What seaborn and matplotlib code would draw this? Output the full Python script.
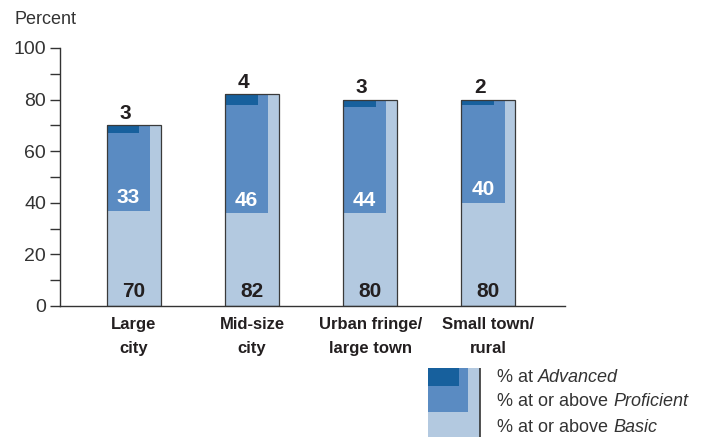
import pandas as pd
import matplotlib
matplotlib.use("Agg")
import matplotlib.pyplot as plt
import seaborn as sns

sns.set_style("white")
plt.rcParams['font.family'] = ['Liberation Sans', 'DejaVu Sans']

# data
categories = ["Large\ncity", "Mid-size\ncity", "Urban fringe/\nlarge town", "Small town/\nrural"]
basic = [70, 82, 80, 80]        # % at or above Basic
proficient = [33, 46, 44, 40]   # % at or above Proficient
advanced = [3, 4, 3, 2]         # % at Advanced

c_basic = "#b3c9e0"
c_prof = "#5a8bc2"
c_adv = "#17609d"
txt = "#231f20"

df = pd.DataFrame({"cat": categories, "basic": basic})

fig = plt.figure(figsize=(7.09, 4.37), dpi=100)
ax = fig.add_axes([60 / 709, 0.2998, 505 / 709, 0.5904])

bw = 0.46
sns.barplot(data=df, x="cat", y="basic", color=c_basic, width=bw,
            saturation=1, ax=ax, edgecolor="none")

xs = list(range(len(categories)))
lefts = [x - bw / 2 for x in xs]
prof_w = bw * 0.8
adv_w = bw * 0.6
prof_bottom = [b - p for b, p in zip(basic, proficient)]
adv_bottom = [b - a for b, a in zip(basic, advanced)]
ax.bar(lefts, proficient, width=prof_w, bottom=prof_bottom, align="edge",
       color=c_prof, linewidth=0)
ax.bar(lefts, advanced, width=adv_w, bottom=adv_bottom, align="edge",
       color=c_adv, linewidth=0)
# outline of the whole bar
ax.bar(xs, basic, width=bw, fill=False, edgecolor="#3a3a3a", linewidth=0.9)

# labels
for i in xs:
    ax.text(lefts[i] + adv_w / 2 + 0.02, basic[i] + 1.0, str(advanced[i]),
            ha="center", va="bottom", fontsize=15, fontweight="bold", color=txt)
    ax.text(lefts[i] + prof_w / 2, prof_bottom[i] + 1.3, str(proficient[i]),
            ha="center", va="bottom", fontsize=15, fontweight="bold", color="white")
    ax.text(xs[i], 5.5, str(basic[i]), ha="center", va="center",
            fontsize=15, fontweight="bold", color=txt)

ax.set_xlim(-0.627, 3.65)
ax.set_ylim(0, 100)
ax.set_xlabel("")
ax.set_ylabel("")
ax.set_yticks(range(0, 101, 20))
ax.set_yticks(range(10, 100, 20), minor=True)
ax.tick_params(axis="y", which="major", direction="out", length=7, width=1,
               color="#333333", labelsize=14, labelcolor="#333333", left=True, pad=3)
ax.tick_params(axis="y", which="minor", direction="out", length=7, width=1,
               color="#333333", left=True)
ax.tick_params(axis="x", length=0, labelsize=12, pad=8)
for lab in ax.get_xticklabels():
    lab.set_fontweight("bold")
    lab.set_color(txt)
    lab.set_linespacing(1.75)
for s in ["top", "right"]:
    ax.spines[s].set_visible(False)
ax.spines["left"].set_color("#333333")
ax.spines["bottom"].set_color("#333333")
ax.spines["left"].set_linewidth(1)
ax.spines["bottom"].set_linewidth(1)

fig.text(15 / 709, 1 - 20 / 437, "Percent", ha="left", va="center",
         fontsize=13, color="#333333")

# legend swatch
lax = fig.add_axes([428 / 709, 0, 53 / 709, 69 / 437])
lax.bar([0], [1], width=1, align="edge", color=c_basic, linewidth=0)
lax.bar([0], [0.64], width=0.77, bottom=[0.36], align="edge", color=c_prof, linewidth=0)
lax.bar([0], [0.26], width=0.6, bottom=[0.74], align="edge", color=c_adv, linewidth=0)
lax.axvline(1, color="#333333", lw=1.2)
lax.set_xlim(0, 1.01)
lax.set_ylim(0, 1)
lax.axis("off")

legend_rows = [("% at ", "Advanced", 377), ("% at or above ", "Proficient", 402),
               ("% at or above ", "Basic", 428)]
fig.canvas.draw()
r = fig.canvas.get_renderer()
for plain, ital, ypix in legend_rows:
    t = fig.text(497 / 709, 1 - ypix / 437, plain, ha="left", va="center",
                 fontsize=13, color="#333333")
    bb = t.get_window_extent(renderer=r)
    fig.text(bb.x1 / fig.bbox.width, 1 - ypix / 437, ital, ha="left", va="center",
             fontsize=13, color="#333333", style="italic")

fig.savefig("out.png", dpi=100)
